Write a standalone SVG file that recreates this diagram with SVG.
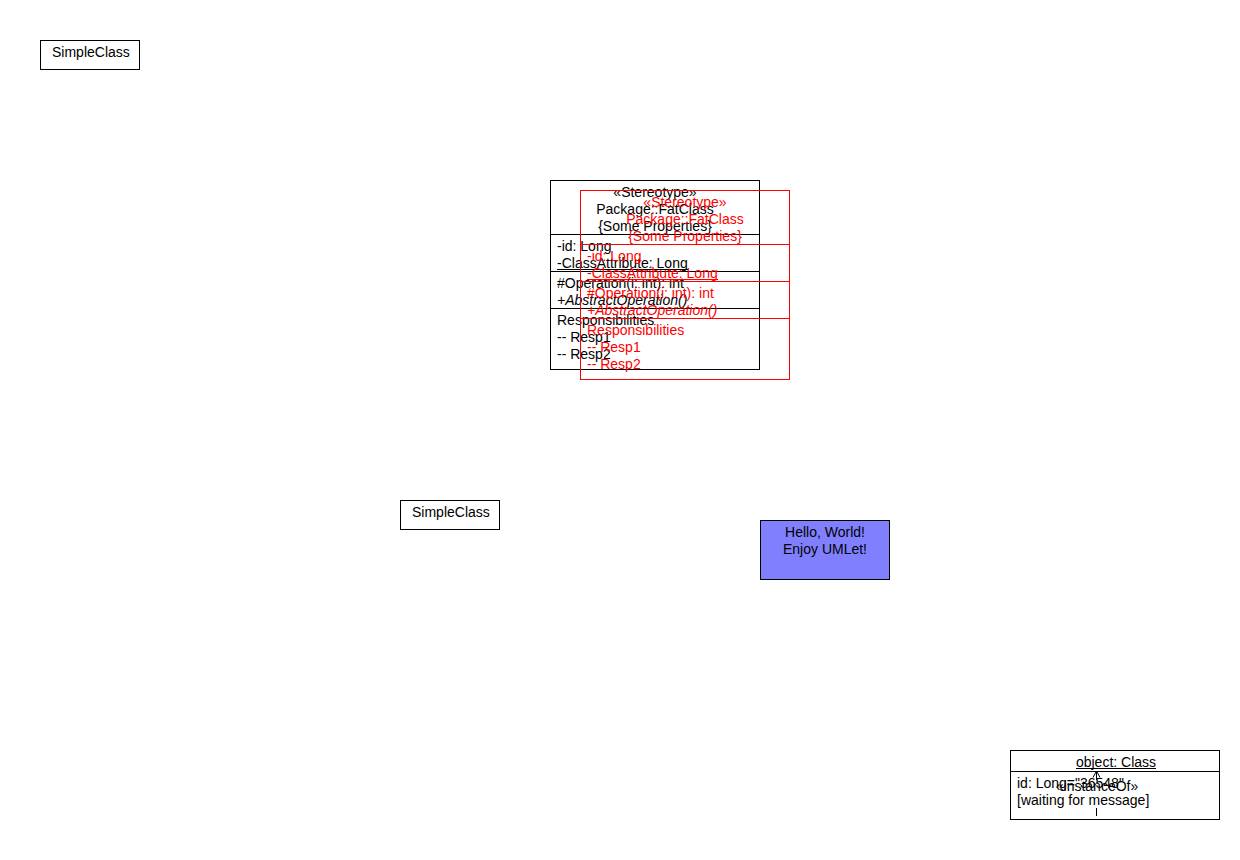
<svg xmlns="http://www.w3.org/2000/svg" width="1240" height="860" viewBox="0 0 1240 860">
<style>
text{font-family:"Liberation Sans",Arial,sans-serif;font-size:14px;fill:#000}
.box{fill:#fff;stroke:#000;stroke-width:1}
.ln{stroke:#000;stroke-width:1;fill:none}
.r text{fill:#ff0000}
.r .ln{stroke:#ff0000}
.c{text-anchor:middle}
.i{font-style:italic}
</style>
<rect width="1240" height="860" fill="#fff"/>
<g id="simple1">
<rect class="box" x="40.5" y="40.5" width="99" height="29"/>
<text x="52" y="57">SimpleClass</text>
</g>
<g id="simple2">
<rect class="box" x="400.5" y="500.5" width="99" height="29"/>
<text x="412" y="517">SimpleClass</text>
</g>
<g id="fatclass">
<rect class="box" x="550.5" y="180.5" width="209" height="189"/>
<text class="c" x="655" y="197">«Stereotype»</text>
<text class="c" x="655" y="214">Package::FatClass</text>
<text class="c" x="655" y="231">{Some Properties}</text>
<line class="ln" x1="550" y1="234.5" x2="760" y2="234.5"/>
<text x="557" y="251">-id: Long</text>
<text x="557" y="268">-ClassAttribute: Long</text>
<line class="ln" x1="557" y1="269.5" x2="688" y2="269.5"/>
<line class="ln" x1="550" y1="271.5" x2="760" y2="271.5"/>
<text x="557" y="288">#Operation(i: int): int</text>
<text class="i" x="557" y="305">+AbstractOperation()</text>
<line class="ln" x1="550" y1="308.5" x2="760" y2="308.5"/>
<text x="557" y="325">Responsibilities</text>
<text x="557" y="342">-- Resp1</text>
<text x="557" y="359">-- Resp2</text>
</g>
<g id="fatclass-red" class="r">
<rect x="580.5" y="190.5" width="209" height="189" fill="none" stroke="#ff0000"/>
<text class="c" x="685" y="207">«Stereotype»</text>
<text class="c" x="685" y="224">Package::FatClass</text>
<text class="c" x="685" y="241">{Some Properties}</text>
<line class="ln" x1="580" y1="244.5" x2="790" y2="244.5"/>
<text x="587" y="261">-id: Long</text>
<text x="587" y="278">-ClassAttribute: Long</text>
<line class="ln" x1="587" y1="279.5" x2="718" y2="279.5"/>
<line class="ln" x1="580" y1="281.5" x2="790" y2="281.5"/>
<text x="587" y="298">#Operation(i: int): int</text>
<text class="i" x="587" y="315">+AbstractOperation()</text>
<line class="ln" x1="580" y1="318.5" x2="790" y2="318.5"/>
<text x="587" y="335">Responsibilities</text>
<text x="587" y="352">-- Resp1</text>
<text x="587" y="369">-- Resp2</text>
</g>
<g id="note">
<rect x="760.5" y="520.5" width="129" height="59" fill="#8080ff" stroke="#000"/>
<text class="c" x="825" y="537">Hello, World!</text>
<text class="c" x="825" y="554">Enjoy UMLet!</text>
</g>
<g id="object">
<rect class="box" x="1010.5" y="750.5" width="209" height="69"/>
<text class="c" x="1116" y="767">object: Class</text>
<line class="ln" x1="1076" y1="768.5" x2="1156" y2="768.5"/>
<line class="ln" x1="1010" y1="771.5" x2="1220" y2="771.5"/>
<text x="1017" y="788">id: Long="36548"</text>
<text x="1017" y="805">[waiting for message]</text>
</g>
<g id="connectors">
<polyline class="ln" points="1093,777.5 1096.5,771 1100,777.5"/>
<line class="ln" x1="1096.5" y1="771" x2="1096.5" y2="780"/>
<line class="ln" x1="1096.5" y1="808" x2="1096.5" y2="816"/>
<text class="c" x="1097" y="791">«instanceOf»</text>
</g>
</svg>
